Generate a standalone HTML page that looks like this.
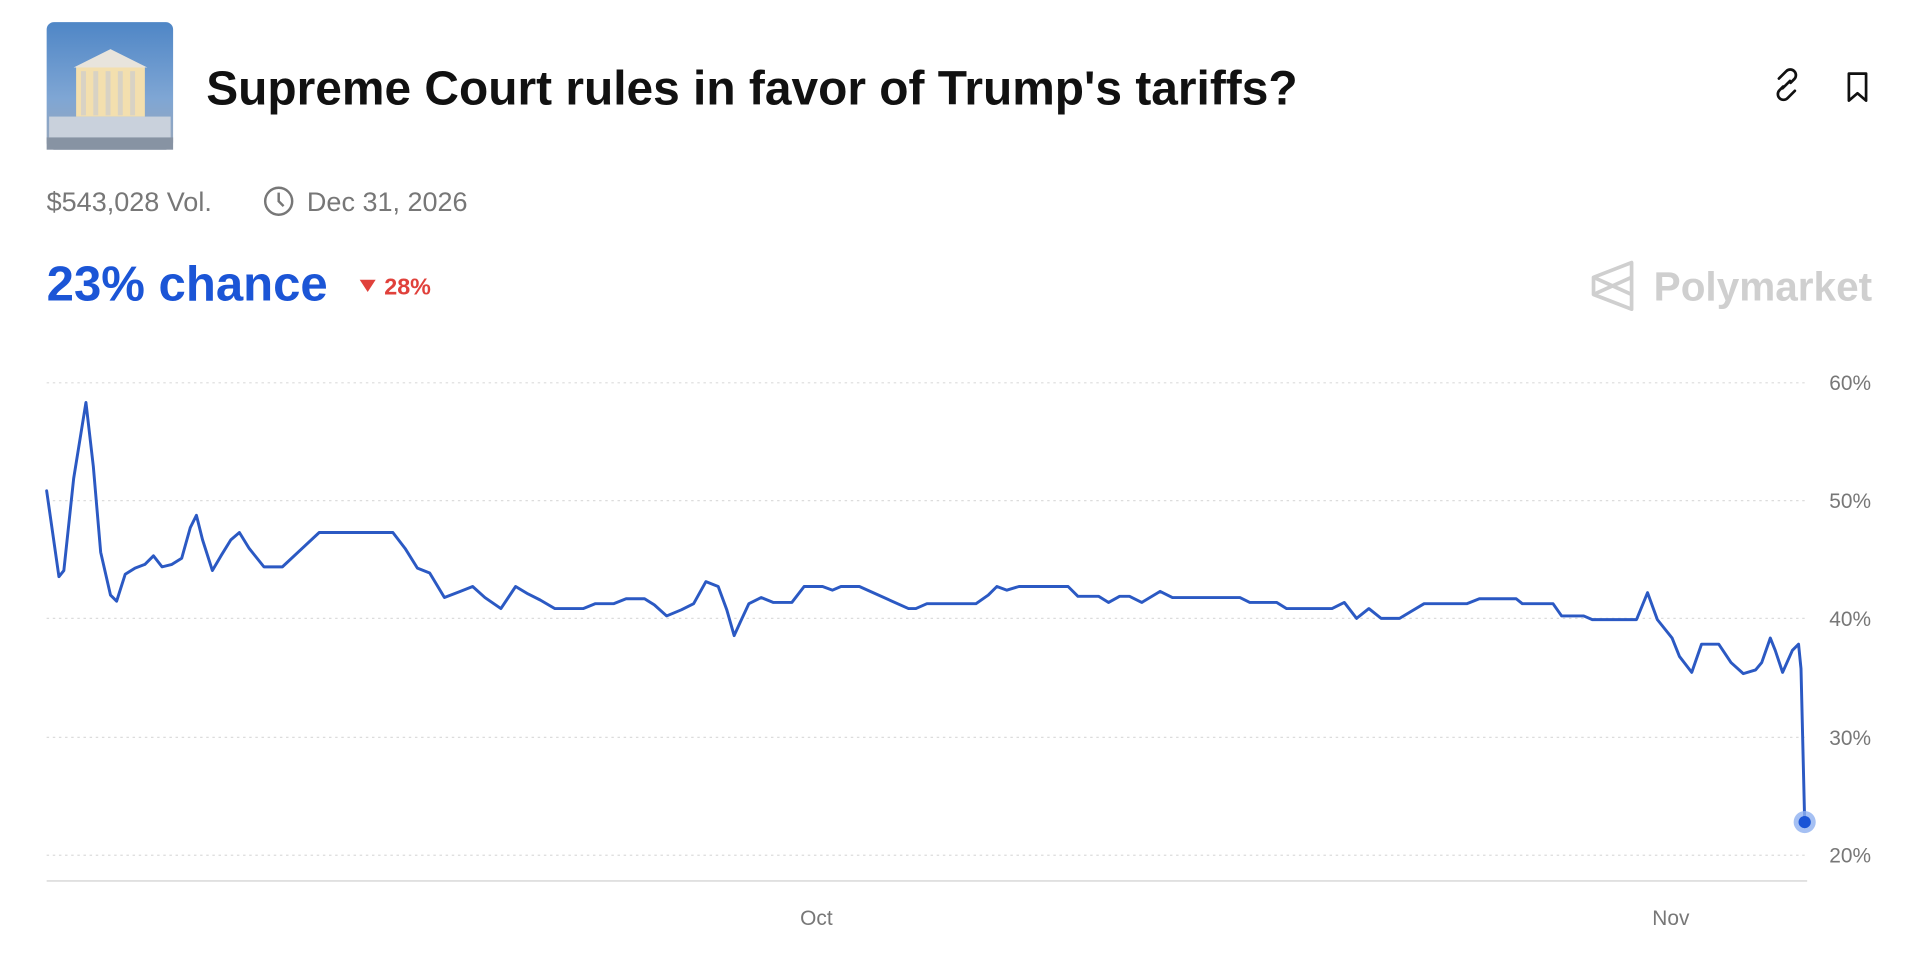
<!DOCTYPE html>
<html><head><meta charset="utf-8"><style>
html,body{margin:0;padding:0;background:#fff;}
svg{display:block;font-family:"Liberation Sans",sans-serif;}
</style></head><body>
<svg width="1925" height="973" viewBox="0 0 1568 793" preserveAspectRatio="none">
<defs><linearGradient id="sky" x1="0" y1="0" x2="0" y2="1"><stop offset="0" stop-color="#4f86c6"/><stop offset="0.6" stop-color="#7fa6d4"/><stop offset="1" stop-color="#9aa7b8"/></linearGradient></defs>
<rect x="38" y="18" width="103" height="104" rx="6" fill="url(#sky)"/>
<polygon points="60,55 90,40 120,55" fill="#e8e4dc"/>
<rect x="62" y="55" width="56" height="40" fill="#f3dfae"/>
<g fill="#d8d2c4"><rect x="66" y="58" width="4" height="36"/><rect x="76" y="58" width="4" height="36"/><rect x="86" y="58" width="4" height="36"/><rect x="96" y="58" width="4" height="36"/><rect x="106" y="58" width="4" height="36"/></g>
<rect x="40" y="95" width="99" height="25" fill="#c9d1dc"/>
<rect x="38" y="112" width="103" height="10" fill="#8793a3"/>
<text x="168" y="85" font-size="39" font-weight="600" fill="#111">Supreme Court rules in favor of Trump's tariffs?</text>
<g fill="none" stroke="#111" stroke-width="2.2" stroke-linecap="round">
<path d="M1449,64 l6,-6 a4.5,4.5 0 0 1 6.5,6.5 l-3,3"/><path d="M1462,74 l-6,6 a4.5,4.5 0 0 1 -6.5,-6.5 l3,-3"/><path d="M1452,72 l6,-6"/>
<path d="M1506,60 h14 v22 l-7,-6 l-7,6 z" stroke-linejoin="round"/>
</g>
<text x="38" y="172" font-size="22" fill="#777">$543,028 Vol.</text>
<circle cx="227" cy="164" r="11" fill="none" stroke="#777" stroke-width="2"/>
<path d="M227,157 v7 l4,4" fill="none" stroke="#777" stroke-width="2"/>
<text x="250" y="172" font-size="22" fill="#777">Dec 31, 2026</text>
<text x="38" y="245" font-size="40" font-weight="700" fill="#1b55d6">23% chance</text>
<path d="M293,228 h13 l-6.5,10 z" fill="#e0413b"/>
<text x="313" y="240" font-size="19" font-weight="700" fill="#e0413b">28%</text>
<g fill="none" stroke="#cfcfcf" stroke-width="3" stroke-linejoin="round"><path d="M1298,226 l31,-12 v38 l-31,-12 z"/><path d="M1298,226 l31,14 M1298,240 l31,-14"/></g>
<text x="1347" y="245" font-size="33" font-weight="600" fill="#cfcfcf">Polymarket</text>
<g stroke="#dcdcdc" stroke-width="1" stroke-dasharray="2,3">
<line x1="38" y1="312" x2="1472" y2="312"/><line x1="38" y1="408" x2="1472" y2="408"/><line x1="38" y1="504" x2="1472" y2="504"/><line x1="38" y1="601" x2="1472" y2="601"/><line x1="38" y1="697" x2="1472" y2="697"/>
</g>
<line x1="38" y1="718" x2="1472" y2="718" stroke="#e0e0e0" stroke-width="1.5"/>
<g font-size="17" fill="#777"><text x="1490" y="318">60%</text><text x="1490" y="414">50%</text><text x="1490" y="510">40%</text><text x="1490" y="607">30%</text><text x="1490" y="703">20%</text>
<text x="665" y="754" text-anchor="middle">Oct</text><text x="1361" y="754" text-anchor="middle">Nov</text></g>
<polyline fill="none" stroke="#2b59c3" stroke-width="2.4" stroke-linejoin="round" stroke-linecap="round" points="38,400 48,470 52,465 60,390 70,328 76,380 82,450 90,485 95,490 102,468 110,463 118,460 125,453 132,462 140,460 148,455 155,430 160,420 165,440 173,465 180,453 188,440 195,434 203,447 215,462 230,462 245,448 260,434 320,434 330,447 340,463 350,467 362,487 375,482 385,478 395,487 408,496 420,478 430,484 440,489 452,496 475,496 485,492 500,492 510,488 525,488 533,493 543,502 555,497 565,492 575,474 585,478 592,497 598,518 603,507 610,492 620,487 630,491 645,491 655,478 670,478 678,481 685,478 700,478 740,496 746,496 755,492 795,492 805,485 812,478 820,481 830,478 870,478 878,486 895,486 903,491 912,486 920,486 930,491 945,482 955,487 1010,487 1018,491 1040,491 1048,496 1085,496 1095,491 1105,504 1115,496 1125,504 1140,504 1150,498 1160,492 1195,492 1205,488 1235,488 1240,492 1265,492 1272,502 1290,502 1297,505 1333,505 1342,483 1350,505 1362,520 1368,535 1378,548 1386,525 1400,525 1410,540 1420,549 1430,546 1435,540 1442,520 1446,530 1452,548 1460,530 1465,525 1467,545 1470,670"/>
<circle cx="1470" cy="670" r="9" fill="#8fb0f0" opacity="0.8"/>
<circle cx="1470" cy="670" r="5" fill="#1b55d6"/>
</svg>
</body></html>
